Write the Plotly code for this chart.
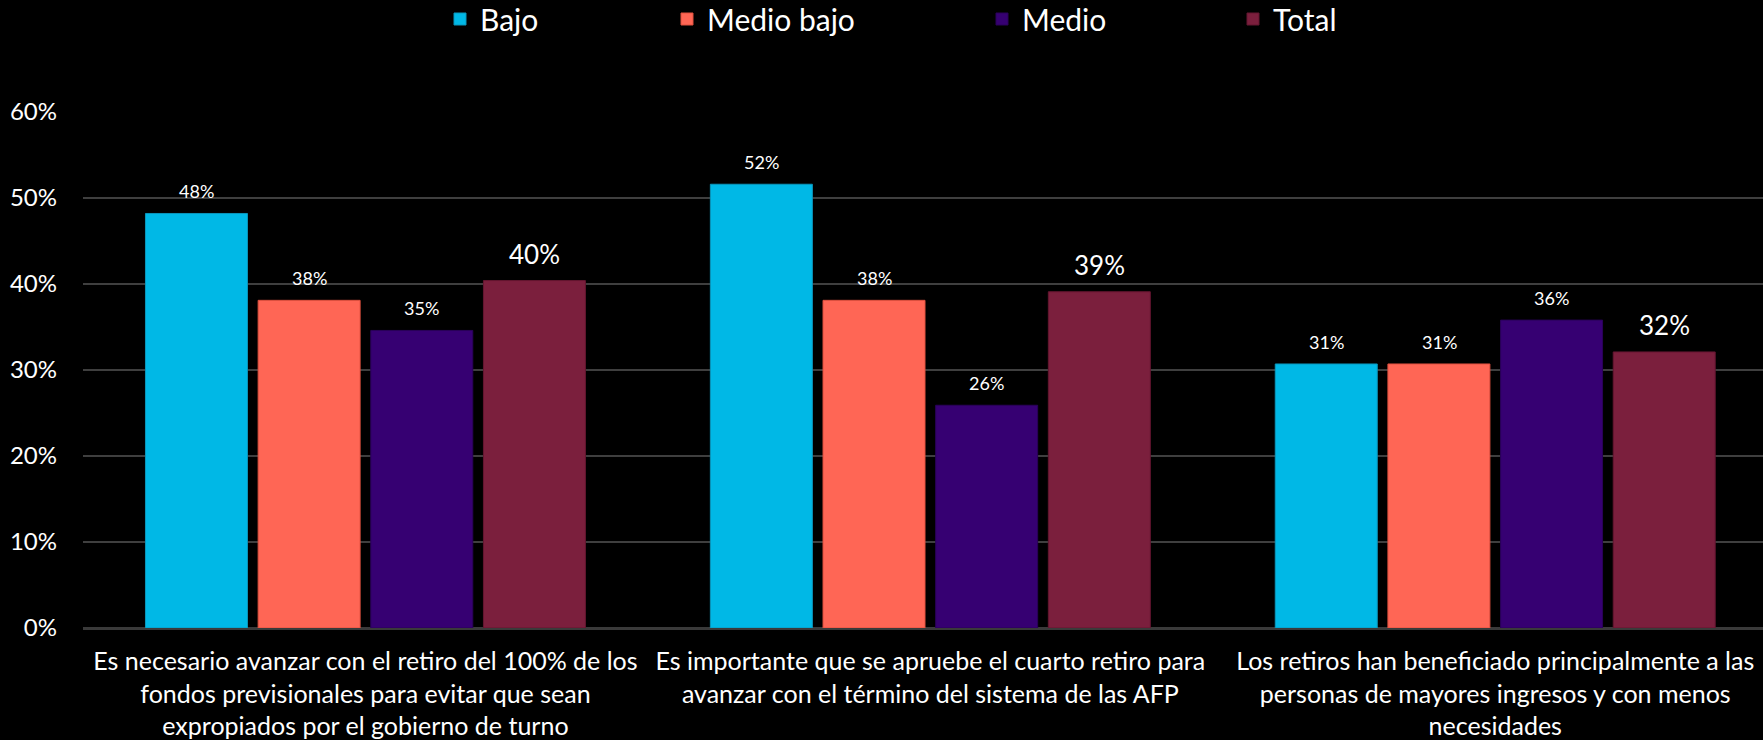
import plotly.graph_objects as go

# ---- data ----
categories = [
    "Es necesario avanzar con el retiro del 100% de los<br>fondos previsionales para evitar que sean<br>expropiados por el gobierno de turno",
    "Es importante que se apruebe el cuarto retiro para<br>avanzar con el término del sistema de las AFP",
    "Los retiros han beneficiado principalmente a las<br>personas de mayores ingresos y con menos<br>necesidades",
]
series_names = ["Bajo", "Medio bajo", "Medio", "Total"]
bajo = [0.482, 0.516, 0.307]
medio_bajo = [0.381, 0.381, 0.307]
medio = [0.346, 0.259, 0.358]
total = [0.404, 0.391, 0.321]

# ---- styles ----
colors = ["#00B8E6", "#FF6655", "#360072", "#7B1F3D"]
edges = ["#0A96BC", "#E0503F", "#2A005A", "#641630"]
FONT = "Lato, 'Open Sans', sans-serif"
W, H = 1763, 740
ML, MR, MT, MB = 83, 0, 112, 112
plot_w = W - ML - MR
plot_h = H - MT - MB

values = [bajo, medio_bajo, medio, total]
legend_ids = ["legend", "legend2", "legend3", "legend4"]
legend_px = [440, 667, 982, 1233]           # pixel x of each legend box
label_shift = [-169, -56, 56, 169]          # label x offsets inside a group (px)
label_size = [18, 18, 18, 26]
label_yshift = [22, 22, 22, 27]

fig = go.Figure()
for name, vals, c, e, lid in zip(series_names, values, colors, edges, legend_ids):
    fig.add_bar(
        x=categories, y=vals, name=name, legend=lid, showlegend=True,
        marker=dict(color=c, line=dict(color=e, width=1)),
        hovertemplate="%{y:.0%}<extra>" + name + "</extra>",
    )

annotations = []
for j, vals in enumerate(values):
    for cat, v in zip(categories, vals):
        annotations.append(dict(
            x=cat, y=v, xref="x", yref="y", text=f"{v:.0%}",
            showarrow=False, xshift=label_shift[j], yshift=label_yshift[j],
            yanchor="middle", font=dict(family=FONT, size=label_size[j], color="white"),
        ))

layout_legends = {}
for lid, px in zip(legend_ids, legend_px):
    layout_legends[lid] = dict(
        x=(px - ML) / plot_w, y=(H - MB - 19) / plot_h,
        xanchor="left", yanchor="middle", orientation="h",
        font=dict(family=FONT, size=30, color="white"),
        bgcolor="rgba(0,0,0,0)", visible=True,
    )

fig.update_layout(
    width=W, height=H, showlegend=True,
    margin=dict(l=ML, r=MR, t=MT, b=MB, pad=0, autoexpand=False),
    paper_bgcolor="#000000", plot_bgcolor="#000000",
    barmode="group", bargap=0.2023, bargroupgap=0.0947,
    font=dict(family=FONT, color="white"),
    annotations=annotations,
    **layout_legends,
)
fig.update_xaxes(
    range=[-0.5, 2.474], showgrid=False, showline=False, zeroline=False,
    tickfont=dict(family=FONT, size=25, color="white"), ticklabelstandoff=16,
)
fig.update_yaxes(
    range=[0, 0.6], dtick=0.1, tickformat=".0%",
    showgrid=True, gridcolor="#3f3f3f", gridwidth=1.5,
    zeroline=True, zerolinecolor="#3a3a3a", zerolinewidth=2.5,
    showline=False, ticks="",
    tickfont=dict(family=FONT, size=24, color="white"), ticklabelstandoff=25,
)

fig.write_html(
    "out.html",
    config={"displayModeBar": False},
    post_script="document.body.style.margin='0';document.body.style.overflow='hidden';document.body.style.background='#000';",
)
